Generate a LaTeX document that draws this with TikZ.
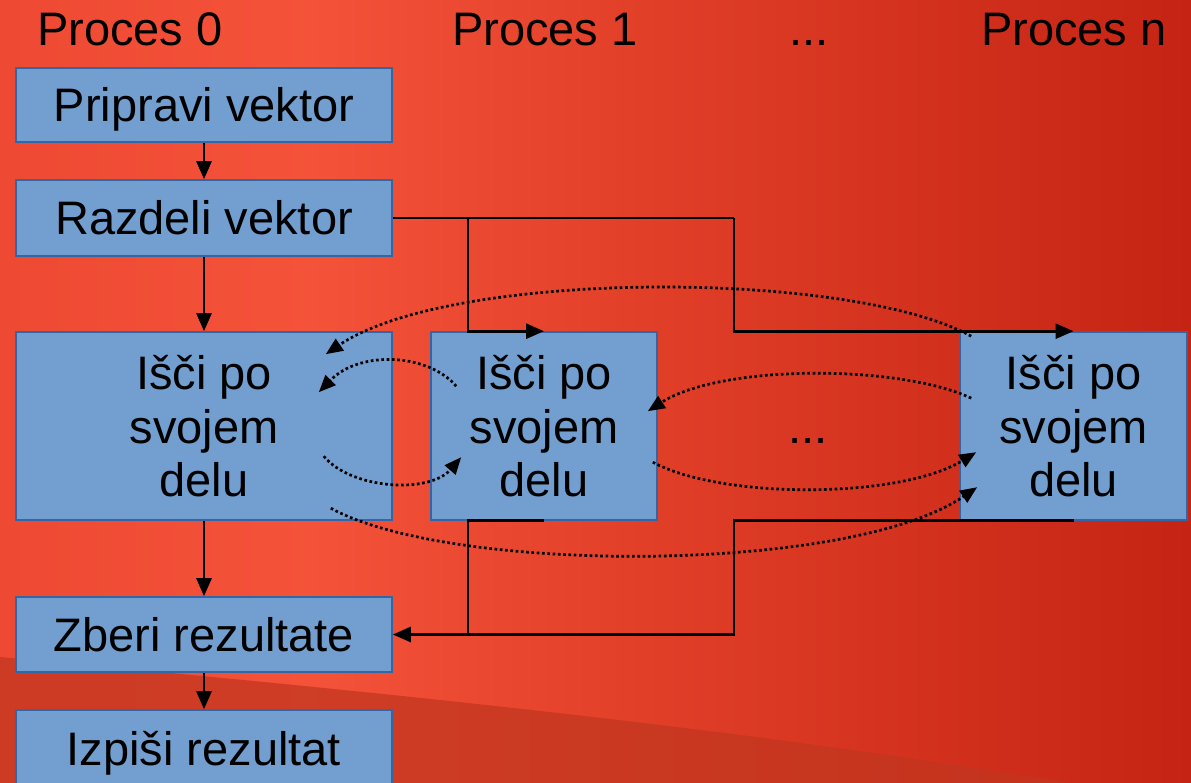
\documentclass[tikz,border=0pt]{standalone}
\usepackage{fontspec}
\setmainfont{Liberation Sans}
\usetikzlibrary{arrows.meta}

\definecolor{boxfill}{HTML}{729FCF}
\definecolor{boxline}{HTML}{3465A4}
\definecolor{bgA}{HTML}{EE4A33}
\definecolor{bgB}{HTML}{F5523A}
\definecolor{bgC}{HTML}{E13F28}
\definecolor{bgD}{HTML}{C52414}
\definecolor{swoosh}{HTML}{C2361F}

\pgfdeclarehorizontalshading{slidebg}{100bp}{%
  color(0bp)=(bgA); color(25bp)=(bgA); color(38bp)=(bgB);
  color(52bp)=(bgC); color(75bp)=(bgD); color(100bp)=(bgD)}

\tikzset{
  proc/.style={draw=boxline, line width=1.6pt, fill=boxfill, inner sep=0pt,
    font=\fontsize{47}{53.5}\selectfont},
  oneline/.style={proc, text height=34pt, text depth=0pt},
  threeline/.style={proc, align=center, text height=141pt, text depth=0pt},
  head/.style={font=\fontsize{47}{53.5}\selectfont, inner sep=0pt},
  flow/.style={line width=2.8pt, -{Triangle[length=18pt,width=15pt]}},
  link/.style={line width=2.8pt},
  msg/.style={line width=2.7pt, dash pattern=on 2.7pt off 2.6pt,
    -{Triangle[length=17pt,width=14pt]}},
}

\begin{document}
\begin{tikzpicture}[x=1pt,y=-1pt]
\useasboundingbox (0,0) rectangle (1191,783);

% slide background
\shade[shading=slidebg] (0,0) rectangle (1191,783);
\fill[swoosh, opacity=0.75]
  (0,657) .. controls (300,685) and (800,730) .. (1191,805)
  -- (1191,830) -- (0,830) -- cycle;

% column headings
\node[head, anchor=base west] (h0) at (37,46) {Proces 0};
\node[head, anchor=base west] (h1) at (452,46) {Proces 1};
\node[head, anchor=base] (hdots) at (809,46) {...};
\node[head, anchor=base west] (hn) at (981,46) {Proces n};

% process 0 steps
\node[oneline, minimum width=376pt, minimum height=74pt] (prep) at (204,105) {Pripravi vektor};
\node[oneline, minimum width=376pt, minimum height=76pt] (split) at (204,218) {Razdeli vektor};
\node[threeline, minimum width=376pt, minimum height=188pt] (s0) at (204,426) {Išči po\\svojem\\delu};
\node[oneline, minimum width=376pt, minimum height=75pt] (gather) at (204,634.5) {Zberi rezultate};
\node[oneline, minimum width=376pt, minimum height=76pt] (print) at (204,748) {Izpiši rezultat};

% workers
\node[threeline, minimum width=226pt, minimum height=188pt] (s1) at (544,426) {Išči po\\svojem\\delu};
\node[threeline, minimum width=227pt, minimum height=188pt] (sn) at (1073.5,426) {Išči po\\svojem\\delu};
\node[head, anchor=base] (mdots) at (808,443) {...};

% bus columns
\coordinate (busA) at (468,0);
\coordinate (busB) at (734,0);

% control flow
\draw[flow] (prep) -- (split);
\draw[flow] (split) -- (s0);
\draw[flow] (s0) -- (gather);
\draw[flow] (gather) -- (print);

% distribution
\draw[link] (split.east) -- (split.east -| busB);
\draw[flow] (split.east -| busA) |- (s1.north);
\draw[flow] (split.east -| busB) |- (sn.north);

% collection
\draw[flow] (s1.south) -- (s1.south -| busA) |- (gather.east);
\draw[link] (sn.south) -- (sn.south -| busB) |- (gather.east -| busA);

% exchange between processes
\draw[msg] ([shift={(12,5)}]sn.north west) .. controls +(-122,-67) and +(125,-85) .. ([shift={(-67,23)}]s0.north east);
\draw[msg] ([shift={(26,55)}]s1.north west) .. controls +(-27,-32) and +(42,-43) .. ([shift={(-74,61)}]s0.north east);
\draw[msg] ([shift={(-69,125)}]s0.north east) .. controls +(27,33) and +(-32,37) .. ([shift={(31,126)}]s1.north west);
\draw[msg] ([shift={(12,67)}]sn.north west) .. controls +(-72,-34) and +(73,-47) .. ([shift={(-10,80)}]s1.north east);
\draw[msg] ([shift={(-5,131)}]s1.north east) .. controls +(68,37) and +(-77,47) .. ([shift={(17,121)}]sn.north west);
\draw[msg] ([shift={(-62,177)}]s0.north east) .. controls +(120,66) and +(-128,87) .. ([shift={(18,156)}]sn.north west);
\end{tikzpicture}
\end{document}
